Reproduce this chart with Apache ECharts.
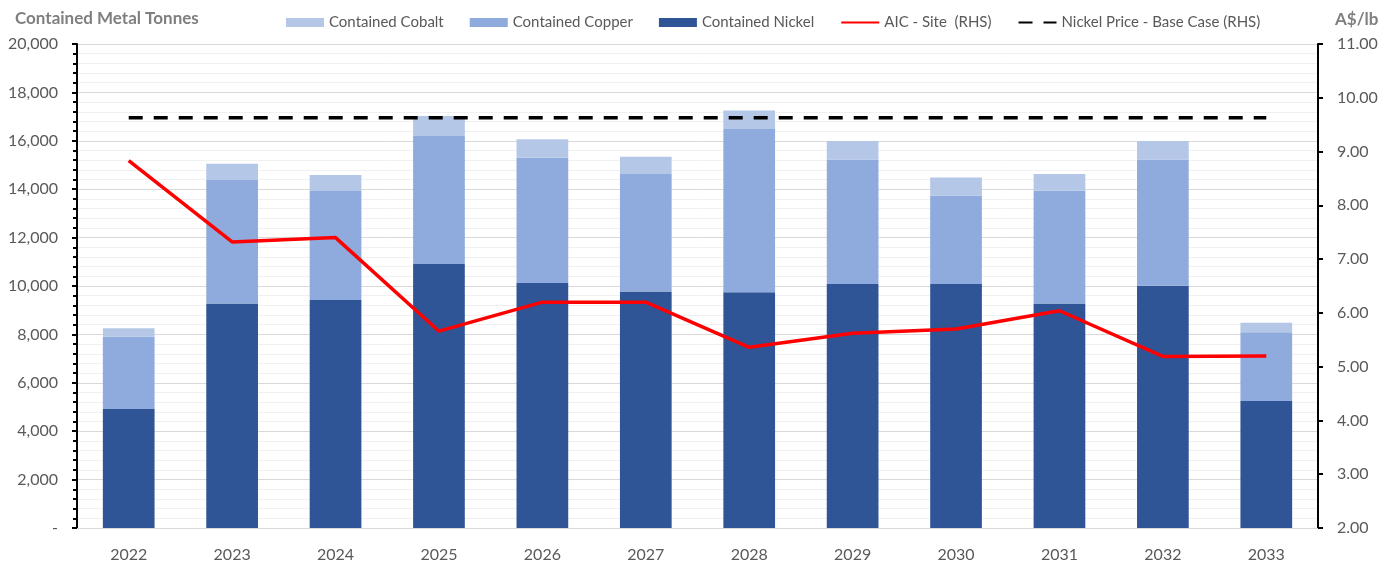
<!DOCTYPE html>
<html>
<head>
<meta charset="utf-8">
<script src="https://cdn.jsdelivr.net/npm/echarts@6/dist/echarts.min.js"></script>
<style>
  html, body { margin: 0; padding: 0; background: #fff; }
  #main { width: 1393px; height: 569px; }
</style>
</head>
<body>
<div id="main"></div>
<script>
// years on the category axis
const years = ['2022', '2023', '2024', '2025', '2026', '2027', '2028', '2029', '2030', '2031', '2032', '2033'];

// contained metal tonnes (LHS)
const nickel = [4920, 9280, 9420, 10910, 10120, 9770, 9740, 10080, 10080, 9280, 10010, 5250];
const copper = [2980, 5100, 4510, 5290, 5180, 4860, 6750, 5150, 3660, 4660, 5220, 2840];
const cobalt = [350, 670, 660, 820, 760, 710, 760, 760, 740, 690, 760, 390];

// A$/lb (RHS)
const aicSite = [8.83, 7.32, 7.40, 5.66, 6.20, 6.20, 5.36, 5.62, 5.70, 6.04, 5.19, 5.20];
const nickelPrice = [9.63, 9.63, 9.63, 9.63, 9.63, 9.63, 9.63, 9.63, 9.63, 9.63, 9.63, 9.63];

const FONT = 'Lato';
const GREY = '#595959';

const chart = echarts.init(document.getElementById('main'));

const option = {
  animation: false,
  textStyle: { fontFamily: FONT },
  title: [
    {
      text: 'Contained Metal Tonnes',
      left: 10, top: 5,
      textStyle: { fontSize: 17, fontWeight: 'bold', color: '#7f7f7f', fontFamily: FONT }
    },
    {
      text: 'A$/lb',
      left: 1330, top: 6,
      textStyle: { fontSize: 17, fontWeight: 'bold', color: '#7f7f7f', fontFamily: FONT }
    }
  ],
  legend: {
    left: 281, top: 10,
    itemWidth: 38, itemHeight: 9,
    itemGap: 26,
    textStyle: { fontSize: 15, color: GREY, fontFamily: FONT },
    data: [
      { name: 'Contained Cobalt', icon: 'rect' },
      { name: 'Contained Copper', icon: 'rect' },
      { name: 'Contained Nickel', icon: 'rect' },
      { name: 'AIC - Site  (RHS)', itemStyle: { opacity: 0 } },
      { name: 'Nickel Price - Base Case (RHS)', itemStyle: { opacity: 0 } }
    ]
  },
  grid: { left: 77, right: 75, top: 44, bottom: 41 },
  xAxis: {
    type: 'category',
    data: years,
    axisLine: { lineStyle: { color: '#d9d9d9', width: 1 } },
    axisTick: { show: false },
    axisLabel: { fontSize: 16, color: GREY, margin: 19 }
  },
  yAxis: [
    {
      type: 'value',
      min: 0, max: 20000, interval: 2000,
      axisLine: { show: true, lineStyle: { color: '#000', width: 2 } },
      axisTick: { show: true, length: 5, lineStyle: { color: '#000', width: 2 } },
      minorTick: { show: true, splitNumber: 5, length: 4, lineStyle: { color: '#000', width: 2 } },
      splitLine: { show: true, lineStyle: { color: '#d9d9d9', width: 1 } },
      minorSplitLine: { show: true, lineStyle: { color: '#f0f0f0', width: 1 } },
      axisLabel: {
        fontSize: 16, color: GREY, margin: 19,
        formatter: v => v === 0 ? '-' : v.toLocaleString('en-US')
      }
    },
    {
      type: 'value',
      min: 2, max: 11, interval: 1,
      position: 'right',
      axisLine: { show: true, lineStyle: { color: '#000', width: 2 } },
      axisTick: { show: true, length: 5, lineStyle: { color: '#000', width: 2 } },
      splitLine: { show: false },
      axisLabel: {
        fontSize: 16, color: GREY, margin: 19,
        formatter: v => v.toFixed(2)
      }
    }
  ],
  series: [
    {
      name: 'Contained Nickel', type: 'bar', stack: 'metal', barWidth: '50%',
      itemStyle: { color: '#2F5597' },
      data: nickel
    },
    {
      name: 'Contained Copper', type: 'bar', stack: 'metal',
      itemStyle: { color: '#8FAADC' },
      data: copper
    },
    {
      name: 'Contained Cobalt', type: 'bar', stack: 'metal',
      itemStyle: { color: '#B4C7E7' },
      data: cobalt
    },
    {
      name: 'AIC - Site  (RHS)', type: 'line', yAxisIndex: 1,
      symbol: 'none',
      lineStyle: { color: '#FF0000', width: 3.5 },
      itemStyle: { color: '#FF0000' },
      data: aicSite
    },
    {
      name: 'Nickel Price - Base Case (RHS)', type: 'line', yAxisIndex: 1,
      symbol: 'none',
      lineStyle: { color: '#000', width: 3.5, type: [14, 11] },
      itemStyle: { color: '#000' },
      data: nickelPrice
    }
  ]
};

chart.setOption(option);
</script>
</body>
</html>
